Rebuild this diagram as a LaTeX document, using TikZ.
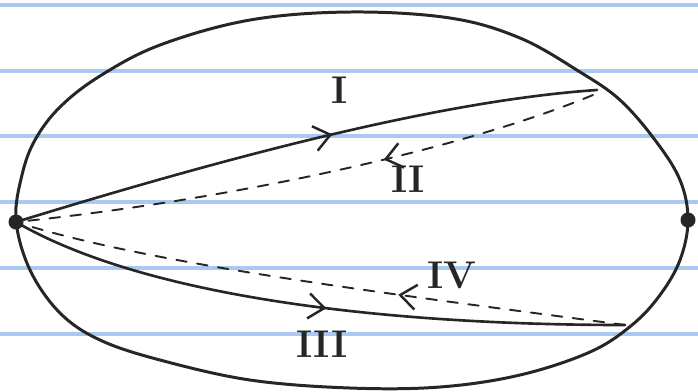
\documentclass[tikz,border=0pt]{standalone}
\usetikzlibrary{arrows.meta,decorations.markings}
\definecolor{paperRule}{HTML}{A9C9F0}
\definecolor{pencil}{HTML}{262626}

\begin{document}
\begin{tikzpicture}[x=0.2mm,y=-0.2mm,line cap=round]
  \tikzstyle{orbit}=[draw=pencil,line width=1.7pt]
  \tikzstyle{leg}=[draw=pencil,line width=1.5pt]
  \tikzstyle{back}=[draw=pencil,line width=1.1pt,dash pattern=on 6pt off 6pt]
  \tikzstyle{tag}=[font=\fontsize{22}{22}\selectfont\bfseries,text=pencil,inner sep=1pt]
  \tikzstyle{dot}=[circle,fill=pencil,inner sep=0pt,minimum size=3mm]
  \tikzset{tipat/.style={postaction={decorate},decoration={markings,
      mark=at position #1 with {\arrow[pencil,line width=1.4pt]{Straight Barb[length=3.2mm,width=5mm]}}}}}
  \useasboundingbox (0,0) rectangle (698,391);

  % ruled paper
  \foreach \y in {5,71,136,202,268,334}
    \draw[paperRule,line width=2.2pt] (0,\y) -- (698,\y);

  % the orbit
  \draw[orbit] plot[smooth cycle,tension=0.6] coordinates {
    (16,220) (22,175) (35,140) (60,107) (100,76) (160,45) (250,20) (350,12)
    (450,18) (520,38) (580,72) (620,100) (655,140) (680,180) (688,220)
    (680,260) (660,295) (632,325) (590,352) (520,375) (440,387) (350,388)
    (250,380) (160,360) (100,340) (60,313) (30,270)};

  \node[dot] (sun) at (16,222) {};
  \node[dot] (far) at (688,220) {};
  \coordinate (upA) at (597,90);
  \coordinate (upB) at (593,95);
  \coordinate (lowA) at (625,325);

  % legs
  \draw[leg,tipat=0.55] (sun.center) .. controls (250,150) and (450,100) .. (upA);
  \draw[back,tipat=0.37] (upB) .. controls (460,150) and (230,200) .. (sun.center);
  \draw[leg,tipat=0.52] (sun.center) .. controls (150,300) and (400,325) .. (lowA);
  \draw[back,tipat=0.37] (lowA) .. controls (400,295) and (150,265) .. (sun.center);

  \node[tag] (legI) at (340,90) {I};
  \node[tag] (legII) at (408,179) {II};
  \node[tag] (legIII) at (322,344) {III};
  \node[tag] (legIV) at (452,275) {IV};
\end{tikzpicture}
\end{document}
